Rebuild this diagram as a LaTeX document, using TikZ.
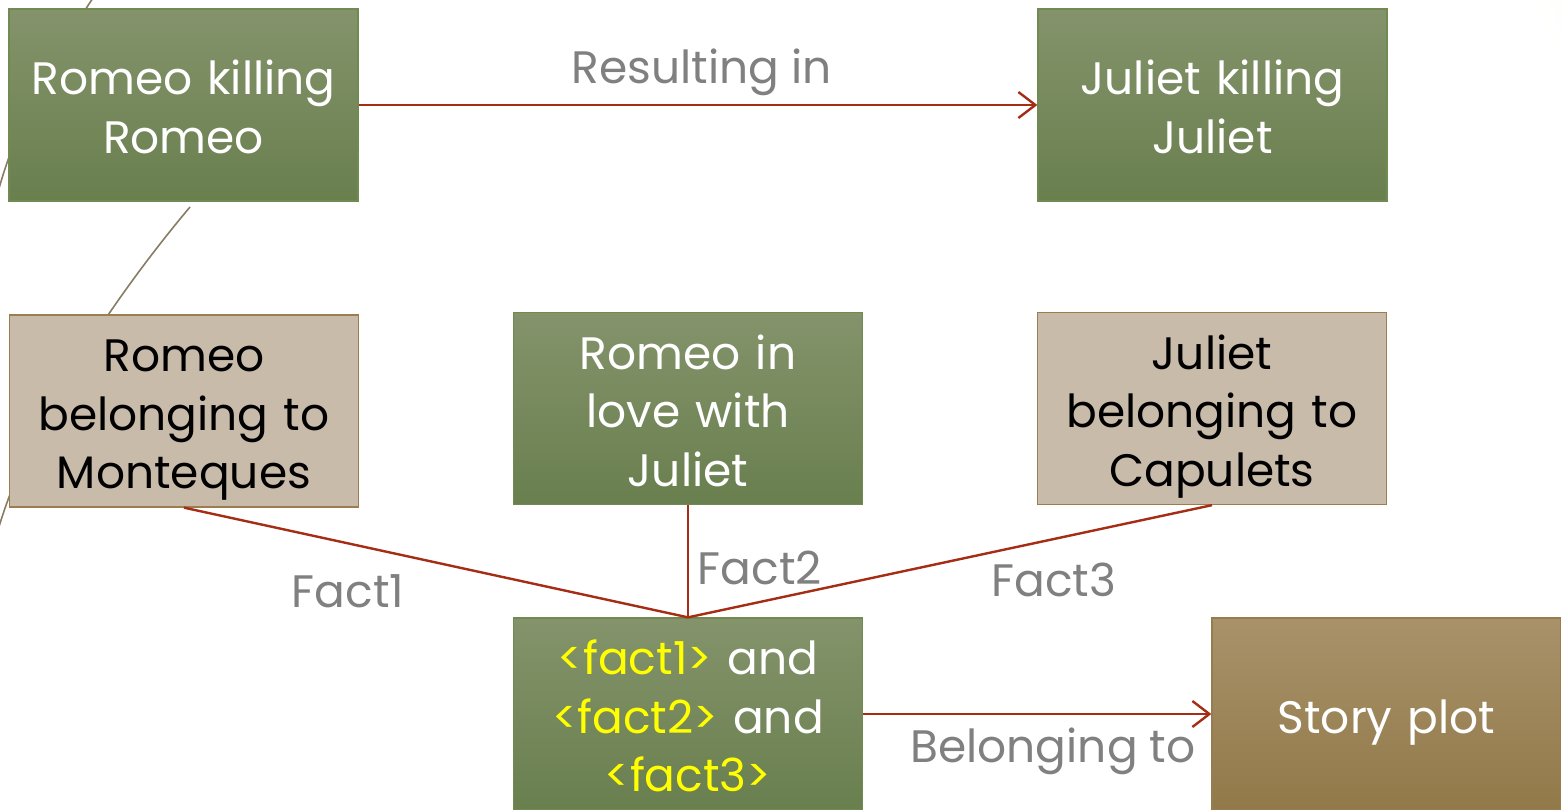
\documentclass[tikz,border=0pt]{standalone}
\usepackage{fontspec}
\setmainfont{Poppins}
\usetikzlibrary{arrows.meta}
\definecolor{gtop}{RGB}{132,147,107}
\definecolor{gbot}{RGB}{105,127,78}
\definecolor{gborder}{RGB}{112,138,82}
\definecolor{tanfill}{RGB}{200,187,170}
\definecolor{tanborder}{RGB}{155,125,80}
\definecolor{btop}{RGB}{169,146,106}
\definecolor{bbot}{RGB}{145,121,73}
\definecolor{bborder}{RGB}{150,125,80}
\definecolor{connred}{RGB}{165,45,20}
\definecolor{lblgray}{RGB}{128,128,128}
\definecolor{bgout}{RGB}{218,229,190}
\definecolor{swoosh}{RGB}{135,125,100}
\definecolor{factyellow}{RGB}{255,255,0}
\pgfdeclareradialshading{bgshade}{\pgfpoint{0bp}{0bp}}{color(0bp)=(white); color(12bp)=(white); color(25bp)=(bgout); color(50bp)=(bgout)}
\newcommand\bigtxt{\fontsize{45.5}{58.5}\selectfont}
\tikzset{
  box/.style={draw, line width=1.3pt, minimum width=349, minimum height=192,
    text width=345, align=center, inner sep=0pt, font=\bigtxt,
    execute at begin node={\rule{0pt}{55pt}},
    execute at end node={\rule[-17pt]{0pt}{17pt}}},
  greenbox/.style={box, draw=gborder, top color=gtop, bottom color=gbot, text=white},
  tanbox/.style={box, draw=tanborder, fill=tanfill, text=black},
  brownbox/.style={box, draw=bborder, top color=btop, bottom color=bbot, text=white},
  conn/.style={draw=connred, line width=2.4pt},
  arr/.style={conn, -{Straight Barb[length=17pt, width=26pt, line width=2.4pt]}},
  lbl/.style={text=lblgray, font=\bigtxt, anchor=base, inner sep=0pt},
}
\begin{document}
\begin{tikzpicture}[x=1pt,y=-1pt]
\useasboundingbox (0,0) rectangle (1561,809);
\clip (0,0) rectangle (1561,809);
% background
\path[shading=bgshade] (730,330) circle (1800);
% decorative swooshes
\draw[swoosh, line width=1.6pt] (93,-2) .. controls (45,70) and (15,130) .. (-2,192);
\draw[swoosh, line width=1.6pt] (190,207) .. controls (120,290) and (30,420) .. (-2,530);
% nodes
\node[greenbox] (A) at (183.5,105) {Romeo killing\\Romeo};
\node[greenbox] (B) at (1212.5,105) {Juliet killing\\Juliet};
\node[tanbox] (C) at (184,411) {Romeo\\belonging to\\Monteques};
\node[greenbox] (D) at (688,408.5) {Romeo in\\love with\\Juliet};
\node[tanbox] (E) at (1212,408.5) {Juliet\\belonging to\\Capulets};
\node[greenbox] (F) at (688,714) {{\color{factyellow}<fact1>} and\\{\color{factyellow}<fact2>} and\\{\color{factyellow}<fact3>}};
\node[brownbox] (G) at (1386.5,714) {Story plot};
% connectors
\draw[arr] (A.east) -- (B.west);
\draw[conn] (C.south) -- (F.north);
\draw[conn] (D.south) -- (F.north);
\draw[conn] (E.south) -- (F.north);
\draw[arr] (F.east) -- (G.west);
% labels
\node[lbl] (l1) at (702,83) {Resulting in};
\node[lbl] (l2) at (348,607) {Fact1};
\node[lbl] (l3) at (760,584) {Fact2};
\node[lbl] (l4) at (1054,596) {Fact3};
\node[lbl] (l5) at (1053,762) {Belonging to};
\end{tikzpicture}
\end{document}
